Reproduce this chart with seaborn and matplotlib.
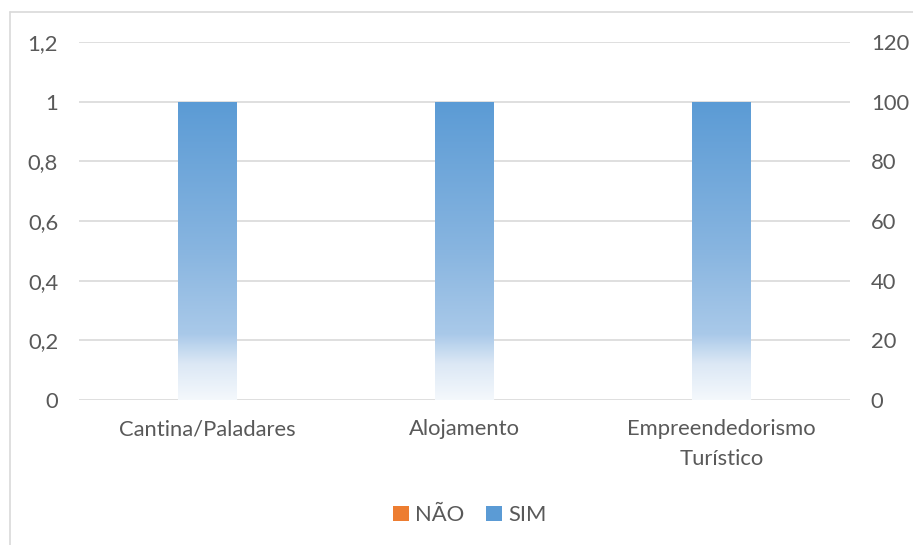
import numpy as np
import pandas as pd
import matplotlib
matplotlib.use('Agg')
import matplotlib.pyplot as plt
import seaborn as sns
from matplotlib.colors import LinearSegmentedColormap
from matplotlib.patches import Patch
from matplotlib.lines import Line2D

# ── DATOS ──
categorias = ['Cantina/Paladares', 'Alojamento', 'Empreendedorismo\nTurístico']
valores_sim = [1, 1, 1]
valores_nao = [0, 0, 0]
ticks_esq = [0, 0.2, 0.4, 0.6, 0.8, 1.0, 1.2]
labels_esq = ['0', '0,2', '0,4', '0,6', '0,8', '1', '1,2']
ticks_dir = [0, 20, 40, 60, 80, 100, 120]

AZUL = '#5B9BD5'
LARANJA = '#ED7D31'
GRIS_TXT = '#595959'
GRIS_GRID = '#D9D9D9'
FS = 15.8

sns.set_theme(style='white')
plt.rcParams['font.family'] = ['Lato', 'DejaVu Sans']

df = pd.DataFrame({
    'categoria': categorias * 2,
    'valor': valores_sim + valores_nao,
    'serie': ['SIM'] * 3 + ['NÃO'] * 3,
})

fig = plt.figure(figsize=(9.13, 5.45), dpi=100)
ax = fig.add_axes([79 / 913, 1 - 400 / 545, (850 - 79) / 913, (400 - 42) / 545])

sns.barplot(data=df, x='categoria', y='valor', hue='serie', hue_order=['NÃO', 'SIM'],
            palette={'NÃO': LARANJA, 'SIM': AZUL}, dodge=False, width=0.226,
            ax=ax, legend=False)

ax.set_ylim(0, 1.2)
ax.set_xlim(-0.5, 2.5)
ax.set_yticks(ticks_esq)
ax.set_yticklabels(labels_esq)
ax.yaxis.grid(True, color=GRIS_GRID, linewidth=1.2)
ax.set_axisbelow(True)
for s in ax.spines.values():
    s.set_visible(False)
ax.set_xlabel('')
ax.set_ylabel('')
ax.tick_params(axis='y', length=0, pad=15, labelsize=FS, labelcolor=GRIS_TXT)
ax.tick_params(axis='x', length=0, pad=14, labelsize=FS, labelcolor=GRIS_TXT)
for t in ax.get_xticklabels():
    t.set_linespacing(1.6)

# degradado en las barras (estilo Excel)
cmap = LinearSegmentedColormap.from_list('grad', [
    (0.0, '#F4F8FC'), (0.12, '#DCE8F5'), (0.22, '#A9C9E9'),
    (0.5, '#88B5E0'), (1.0, AZUL)])
grad = np.linspace(0, 1, 256).reshape(-1, 1)
for p in list(ax.patches):
    h = p.get_height()
    if h <= 0:
        continue
    x0 = p.get_x()
    w = p.get_width()
    im = ax.imshow(grad, cmap=cmap, origin='lower', aspect='auto',
                   extent=[x0, x0 + w, 0, h], zorder=2)
    im.set_clip_path(p)
    p.set_facecolor('none')
    p.set_edgecolor('none')
ax.set_xlim(-0.5, 2.5)
ax.set_ylim(0, 1.2)

# eje secundario
ax2 = ax.twinx()
ax2.set_ylim(0, 120)
ax2.set_yticks(ticks_dir)
ax2.grid(False)
for s in ax2.spines.values():
    s.set_visible(False)
ax2.tick_params(axis='y', length=0, pad=15, labelsize=FS, labelcolor=GRIS_TXT)

# leyenda
handles = [Patch(facecolor=LARANJA, edgecolor='none'), Patch(facecolor=AZUL, edgecolor='none')]
fig.legend(handles, ['NÃO', 'SIM'], loc='center', ncol=2, frameon=False,
           bbox_to_anchor=(470 / 913, 1 - 515 / 545), fontsize=FS,
           handlelength=0.7, handleheight=0.7, handletextpad=0.3, columnspacing=1.0,
           labelcolor=GRIS_TXT)

# borde del gráfico
fig.add_artist(Line2D([10 / 913, 10 / 913], [0, 1 - 12 / 545], color=GRIS_GRID, linewidth=1.2))
fig.add_artist(Line2D([10 / 913, 1], [1 - 12 / 545, 1 - 12 / 545], color=GRIS_GRID, linewidth=1.2))

fig.savefig('out.png', dpi=100)
